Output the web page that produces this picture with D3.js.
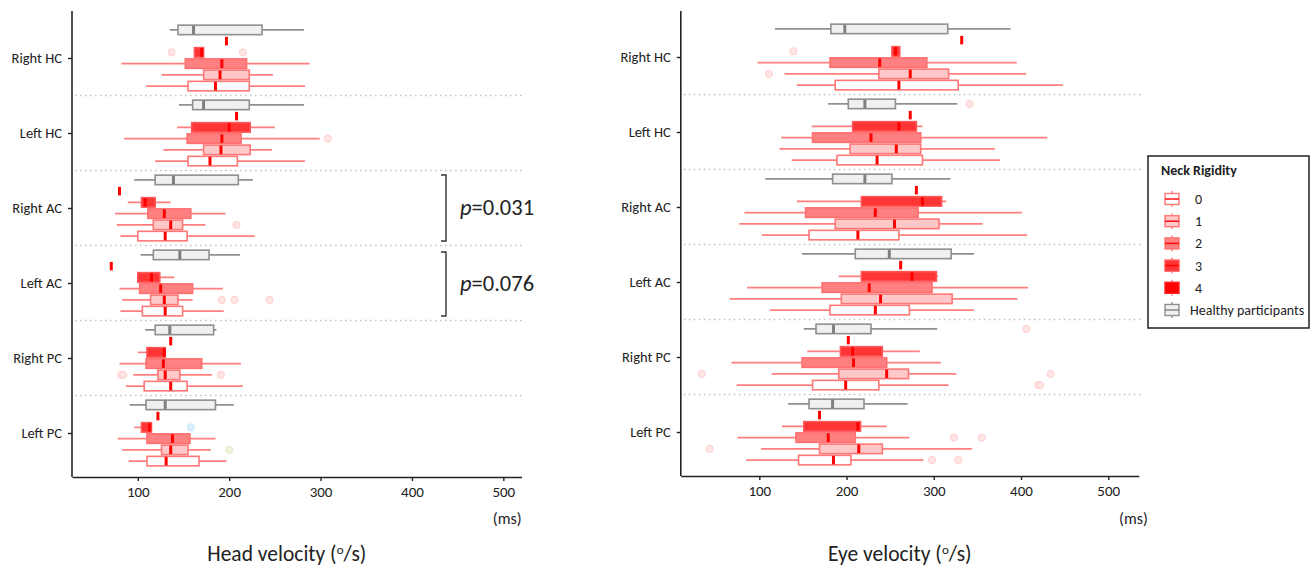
<!DOCTYPE html>
<html>
<head>
<meta charset="UTF-8">
<title>Head and eye velocity by neck rigidity</title>
<script src="https://cdn.jsdelivr.net/npm/d3@7"></script>
<style>
  body { margin: 0; background: #fff; }
  text { font-family: Carlito, Lato, sans-serif; fill: #222; }
</style>
</head>
<body>
<div id="plot"></div>
<script>

// data

var categories = ["Right HC", "Left HC", "Right AC", "Left AC", "Right PC", "Left PC"]
// order of the boxes inside one category, top to bottom
var groups = ["H", "4", "3", "2", "1", "0"]
var legendKeys = ["0", "1", "2", "3", "4", "H"]
var legendLabels = ["0", "1", "2", "3", "4", "Healthy participants"]
var xTicks = [100, 200, 300, 400, 500]

// [category, group, whisker low, q1, median, q3, whisker high]
var headStats = [
  ["Right HC", "H", 135, 144, 161, 236, 282],
  ["Right HC", "4", 197, 197, 197, 197, 197],
  ["Right HC", "3", 162, 162, 170, 172, 172],
  ["Right HC", "2", 82, 152, 192, 219, 288],
  ["Right HC", "1", 126, 172, 190, 222, 248],
  ["Right HC", "0", 109, 155, 185, 222, 283],
  ["Left HC", "H", 145, 160, 172, 222, 282],
  ["Left HC", "4", 208, 208, 208, 208, 208],
  ["Left HC", "3", 143, 159, 200, 223, 250],
  ["Left HC", "2", 85, 154, 192, 213, 299],
  ["Left HC", "1", 128, 172, 191, 223, 247],
  ["Left HC", "0", 119, 155, 179, 209, 283],
  ["Right AC", "H", 96, 119, 139, 210, 226],
  ["Right AC", "4", 80, 80, 80, 80, 80],
  ["Right AC", "3", 89, 104, 108, 119, 136],
  ["Right AC", "2", 75, 111, 129, 158, 196],
  ["Right AC", "1", 77, 117, 136, 149, 174],
  ["Right AC", "0", 81, 100, 130, 154, 228],
  ["Left AC", "H", 103, 117, 146, 178, 212],
  ["Left AC", "4", 71, 71, 71, 71, 71],
  ["Left AC", "3", 99, 100, 115, 124, 140],
  ["Left AC", "2", 80, 102, 125, 160, 193],
  ["Left AC", "1", 83, 114, 129, 144, 160],
  ["Left AC", "0", 81, 105, 130, 149, 194],
  ["Right PC", "H", 108, 119, 135, 183, 186],
  ["Right PC", "4", 136, 136, 136, 136, 136],
  ["Right PC", "3", 100, 110, 129, 130, 130],
  ["Right PC", "2", 80, 109, 128, 170, 213],
  ["Right PC", "1", 95, 122, 130, 146, 181],
  ["Right PC", "0", 87, 107, 136, 154, 215],
  ["Left PC", "H", 91, 109, 130, 185, 205],
  ["Left PC", "4", 122, 122, 122, 122, 122],
  ["Left PC", "3", 96, 104, 113, 115, 115],
  ["Left PC", "2", 78, 110, 138, 157, 185],
  ["Left PC", "1", 83, 126, 136, 155, 180],
  ["Left PC", "0", 90, 110, 131, 167, 197]
]

var eyeStats = [
  ["Right HC", "H", 118, 182, 198, 316, 388],
  ["Right HC", "4", 332, 332, 332, 332, 332],
  ["Right HC", "3", 252, 252, 256, 261, 261],
  ["Right HC", "2", 98, 181, 238, 292, 395],
  ["Right HC", "1", 129, 237, 273, 317, 406],
  ["Right HC", "0", 143, 187, 260, 328, 448],
  ["Left HC", "H", 179, 202, 221, 256, 327],
  ["Left HC", "4", 273, 273, 273, 273, 273],
  ["Left HC", "3", 160, 207, 260, 280, 287],
  ["Left HC", "2", 125, 161, 228, 285, 430],
  ["Left HC", "1", 123, 204, 257, 285, 370],
  ["Left HC", "0", 137, 189, 235, 287, 376],
  ["Right AC", "H", 107, 184, 221, 252, 319],
  ["Right AC", "4", 280, 280, 280, 280, 280],
  ["Right AC", "3", 143, 217, 287, 309, 314],
  ["Right AC", "2", 83, 153, 233, 282, 401],
  ["Right AC", "1", 77, 187, 255, 306, 356],
  ["Right AC", "0", 103, 157, 213, 260, 407],
  ["Left AC", "H", 149, 210, 249, 320, 346],
  ["Left AC", "4", 262, 262, 262, 262, 262],
  ["Left AC", "3", 191, 217, 275, 303, 305],
  ["Left AC", "2", 86, 172, 226, 298, 408],
  ["Left AC", "1", 66, 194, 239, 321, 396],
  ["Left AC", "0", 112, 181, 233, 272, 346],
  ["Right PC", "H", 151, 165, 185, 228, 304],
  ["Right PC", "4", 202, 202, 202, 202, 202],
  ["Right PC", "3", 155, 193, 207, 241, 284],
  ["Right PC", "2", 68, 149, 208, 246, 308],
  ["Right PC", "1", 114, 191, 246, 271, 326],
  ["Right PC", "0", 74, 161, 199, 237, 317],
  ["Left PC", "H", 133, 157, 184, 220, 270],
  ["Left PC", "4", 169, 169, 169, 169, 169],
  ["Left PC", "3", 126, 151, 213, 216, 246],
  ["Left PC", "2", 75, 142, 179, 210, 272],
  ["Left PC", "1", 102, 169, 214, 241, 344],
  ["Left PC", "0", 85, 145, 185, 205, 288]
]

// [category, group, value]
var headOutliers = [
  ["Right HC", "3", 137], ["Right HC", "3", 215],
  ["Left HC", "2", 308],
  ["Right AC", "1", 208],
  ["Left AC", "1", 192], ["Left AC", "1", 206], ["Left AC", "1", 244],
  ["Right PC", "1", 82], ["Right PC", "1", 84], ["Right PC", "1", 191]
]
var headOutliersBlue = [["Left PC", "3", 158]]
var headOutliersOlive = [["Left PC", "1", 200]]

var eyeOutliers = [
  ["Right HC", "3", 139], ["Right HC", "1", 111],
  ["Left HC", "H", 341],
  ["Right PC", "H", 406],
  ["Right PC", "1", 34], ["Right PC", "1", 434],
  ["Right PC", "0", 420], ["Right PC", "0", 422],
  ["Left PC", "2", 323], ["Left PC", "2", 355],
  ["Left PC", "1", 43],
  ["Left PC", "0", 298], ["Left PC", "0", 328]
]

// looks

var boxStyle = {
  "H": { fill: "#f0f0f0", stroke: "#8f8f8f", med: "#7f7f7f", wh: "#909090" },
  "4": { fill: "#ff0000", stroke: "#ff2020", med: "#ff0000", wh: "#ff7f7f" },
  "3": { fill: "#ff3535", stroke: "#ff5858", med: "#ff0000", wh: "#ff7f7f" },
  "2": { fill: "#ff8080", stroke: "#ff7070", med: "#ff0000", wh: "#ff7f7f" },
  "1": { fill: "#ffc8c8", stroke: "#ff7777", med: "#ff0000", wh: "#ff7f7f" },
  "0": { fill: "#ffffff", stroke: "#ff7777", med: "#ff0000", wh: "#ff7f7f" }
}

var width = 1312, height = 566
var boxH = 9.5

var svg = d3.select("#plot").append("svg")
  .attr("width", width)
  .attr("height", height)

svg.append("rect").attr("width", width).attr("height", height).attr("fill", "#fff")

var dodge = d3.scalePoint().domain(groups).range([-28.1, 28.1])

function drawPanel(stats, outliers, opt) {
  var g = svg.append("g")
  var x = d3.scaleLinear().domain(opt.xDomain).range(opt.xRange)
  var y = d3.scalePoint().domain(categories).range(opt.yRange)
  var row = function(c, grp) { return y(c) + dodge(grp) }

  // dotted separators between categories
  var seps = d3.range(categories.length - 1).map(function(i) {
    return (y(categories[i]) + y(categories[i + 1])) / 2
  })
  g.selectAll(".sep").data(seps).enter().append("line")
    .attr("x1", opt.xRange[0] + 3).attr("x2", opt.xRange[1] + 2)
    .attr("y1", function(d) { return d }).attr("y2", function(d) { return d })
    .attr("stroke", "#c4c4c4").attr("stroke-width", 1.6)
    .attr("stroke-dasharray", "1.6,3.4")

  // x axis
  var xa = g.append("g")
    .attr("transform", "translate(0," + opt.axisBottom + ")")
    .call(d3.axisBottom(x).tickValues(xTicks).tickSize(4).tickSizeOuter(0).tickPadding(5))
  xa.select(".domain").attr("stroke", "#222").attr("stroke-width", 1.6)
  xa.selectAll(".tick line").attr("stroke", "#222").attr("stroke-width", 1.4)
  xa.selectAll(".tick text").style("font-size", "15px").attr("fill", "#222")

  // y axis
  var ya = g.append("g")
    .attr("transform", "translate(" + opt.xRange[0] + ",0)")
    .call(d3.axisLeft(y).tickSize(4).tickSizeOuter(0).tickPadding(6))
  ya.select(".domain").remove()
  ya.append("line")
    .attr("x1", 0).attr("x2", 0)
    .attr("y1", opt.axisTop).attr("y2", opt.axisBottom)
    .attr("stroke", "#222").attr("stroke-width", 1.6)
  ya.selectAll(".tick line").attr("stroke", "#222").attr("stroke-width", 1.4)
  ya.selectAll(".tick text").style("font-size", "14.5px").attr("fill", "#222")

  var boxes = g.selectAll(".box").data(stats).enter().append("g").attr("class", "box")

  // whiskers
  boxes.filter(function(d) { return d[2] < d[3] || d[6] > d[5] }).append("line")
    .attr("x1", function(d) { return x(d[2]) })
    .attr("x2", function(d) { return x(d[6]) })
    .attr("y1", function(d) { return row(d[0], d[1]) })
    .attr("y2", function(d) { return row(d[0], d[1]) })
    .attr("stroke", function(d) { return boxStyle[d[1]].wh })
    .attr("stroke-width", 1.6)

  // boxes
  boxes.filter(function(d) { return d[5] > d[3] }).append("rect")
    .attr("x", function(d) { return x(d[3]) })
    .attr("width", function(d) { return x(d[5]) - x(d[3]) })
    .attr("y", function(d) { return row(d[0], d[1]) - boxH / 2 })
    .attr("height", boxH)
    .attr("fill", function(d) { return boxStyle[d[1]].fill })
    .attr("stroke", function(d) { return boxStyle[d[1]].stroke })
    .attr("stroke-width", 1.6)

  // medians
  boxes.append("line")
    .attr("x1", function(d) { return x(d[4]) })
    .attr("x2", function(d) { return x(d[4]) })
    .attr("y1", function(d) { return row(d[0], d[1]) - boxH / 2 + 0.5 })
    .attr("y2", function(d) { return row(d[0], d[1]) + boxH / 2 - 0.5 })
    .attr("stroke", function(d) { return boxStyle[d[1]].med })
    .attr("stroke-width", 3)

  // outliers
  function dots(list, fill, stroke) {
    g.selectAll(null).data(list).enter().append("circle")
      .attr("cx", function(d) { return x(d[2]) })
      .attr("cy", function(d) { return row(d[0], d[1]) })
      .attr("r", 3.6)
      .attr("fill", fill)
      .attr("stroke", stroke)
      .attr("stroke-width", 1)
  }
  dots(outliers, "#ffe4e4", "#ffcfcf")
  if (opt.blue) dots(opt.blue, "#d8f0ff", "#c8e8fb")
  if (opt.olive) dots(opt.olive, "#f1f3dc", "#e6e9c8")

  // units and title
  g.append("text")
    .attr("x", opt.xRange[1] + opt.unitDx).attr("y", 524)
    .attr("text-anchor", "end").style("font-size", "16px")
    .text("(ms)")

  var t = g.append("text")
    .attr("x", (opt.xRange[0] + opt.xRange[1]) / 2 - 10).attr("y", 561)
    .attr("text-anchor", "middle").style("font-size", "21.5px")
  t.append("tspan").text(opt.title + " (")
  t.append("tspan").attr("dy", -7).style("font-size", "13px").text("o")
  t.append("tspan").attr("dy", 7).text("/s)")

  return { x: x, y: y }
}

drawPanel(headStats, headOutliers, {
  xDomain: [28, 520], xRange: [72, 521.6], yRange: [58, 433],
  axisTop: 11, axisBottom: 477, title: "Head velocity", unitDx: 0,
  blue: headOutliersBlue, olive: headOutliersOlive
})

drawPanel(eyeStats, eyeOutliers, {
  xDomain: [10, 535], xRange: [680.8, 1138.8], yRange: [57, 432],
  axisTop: 11, axisBottom: 476, title: "Eye velocity", unitDx: 9
})

// p-value brackets (head panel)
var brackets = [
  { y0: 175, y1: 241, label: "0.031" },
  { y0: 252, y1: 316, label: "0.076" }
]
var br = svg.selectAll(".bracket").data(brackets).enter().append("g")
br.append("path")
  .attr("d", function(d) {
    return "M441," + d.y0 + "H446V" + d.y1 + "H441"
  })
  .attr("fill", "none").attr("stroke", "#333").attr("stroke-width", 1.4)
var pt = br.append("text")
  .attr("x", 460).attr("y", function(d) { return (d.y0 + d.y1) / 2 + 7 })
  .style("font-size", "22.5px")
pt.append("tspan").style("font-style", "italic").text("p")
pt.append("tspan").text(function(d) { return "=" + d.label })

// legend
var lg = svg.append("g").attr("transform", "translate(1148,156)")
lg.append("rect")
  .attr("width", 161).attr("height", 172)
  .attr("fill", "#fff").attr("stroke", "#222").attr("stroke-width", 1.5)
lg.append("text").attr("x", 13).attr("y", 19)
  .style("font-size", "14px").style("font-weight", "bold").text("Neck Rigidity")

var items = lg.selectAll(".key").data(legendKeys).enter().append("g")
  .attr("transform", function(d, i) { return "translate(0," + (43 + i * 22.2) + ")" })
items.append("line")
  .attr("x1", 24).attr("x2", 24).attr("y1", -8).attr("y2", 8)
  .attr("stroke", function(d) { return boxStyle[d].wh }).attr("stroke-width", 1.4)
items.append("rect")
  .attr("x", 17).attr("y", -5.5).attr("width", 14).attr("height", 11)
  .attr("fill", function(d) { return boxStyle[d].fill })
  .attr("stroke", function(d) { return boxStyle[d].stroke }).attr("stroke-width", 1.4)
items.append("line")
  .attr("x1", 17).attr("x2", 31).attr("y1", 0).attr("y2", 0)
  .attr("stroke", function(d) { return boxStyle[d].med }).attr("stroke-width", 1.4)
items.append("text")
  .attr("x", function(d) { return d === "H" ? 42 : 47 }).attr("y", 5)
  .style("font-size", "14px")
  .text(function(d, i) { return legendLabels[i] })

</script>
</body>
</html>
